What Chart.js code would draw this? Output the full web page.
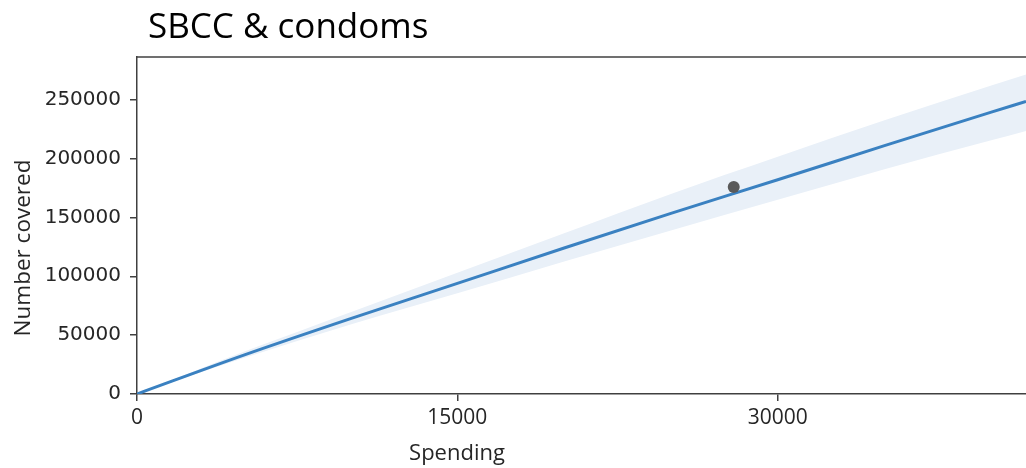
<!DOCTYPE html>
<html>
<head>
<meta charset="utf-8">
<script src="https://cdn.jsdelivr.net/npm/chart.js@4"></script>
<style>
  html, body { margin: 0; padding: 0; background: #fff; overflow: hidden; width: 1026px; height: 468px; }
  canvas { display: block; }
</style>
</head>
<body>
<canvas id="chart" width="1032" height="468"></canvas>
<script>
// dados
const spending = [0, 5000, 10000, 15000, 20000, 25000, 30000, 35000, 40000, 41625];
const covered = [0, 33000, 64000, 94000, 124000, 153500, 182000, 211000, 239500, 248500];
const upper = [0, 35800, 69500, 103000, 136500, 170000, 201500, 232500, 262000, 271500];
const lower = [0, 30500, 59000, 85500, 112500, 139000, 165000, 191000, 215500, 223500];
const observedX = [27940];
const observedY = [175800];
const xTicks = [0, 15000, 30000];
const yTicks = [0, 50000, 100000, 150000, 200000, 250000];

const title = "SBCC & condoms";
const xTitle = "Spending";
const yTitle = "Number covered";

const axisColor = "#404040";
const textColor = "#262626";

function pts(xs, ys) {
  return xs.map((x, i) => ({ x: x, y: ys[i] }));
}

// título, rótulos e moldura
const decor = {
  id: "decor",
  afterDraw(chart) {
    const ctx = chart.ctx;
    const a = chart.chartArea;
    ctx.save();
    ctx.strokeStyle = axisColor;
    ctx.lineWidth = 1.5;
    ctx.beginPath();
    ctx.moveTo(a.left, a.top);
    ctx.lineTo(a.right, a.top);
    ctx.stroke();

    ctx.fillStyle = "#000";
    ctx.font = "35px 'Open Sans'";
    ctx.textBaseline = "alphabetic";
    ctx.textAlign = "left";
    ctx.fillText(title, 148, 38);

    ctx.fillStyle = textColor;
    ctx.font = "22px 'Open Sans'";
    ctx.textAlign = "center";
    ctx.fillText(xTitle, 457, 460);

    ctx.translate(30, 248);
    ctx.rotate(-Math.PI / 2);
    ctx.font = "22.5px 'Open Sans'";
    ctx.fillText(yTitle, 0, 0);
    ctx.restore();
  }
};

new Chart(document.getElementById("chart"), {
  type: "line",
  data: {
    datasets: [
      {
        data: pts(observedX, observedY),
        showLine: false,
        pointRadius: 6,
        pointBackgroundColor: "#5a5a5a",
        pointBorderWidth: 0,
        order: 0
      },
      {
        data: pts(spending, covered),
        borderColor: "#3a81c1",
        borderWidth: 3,
        pointRadius: 0,
        cubicInterpolationMode: "monotone",
        fill: false,
        order: 1
      },
      {
        data: pts(spending, upper),
        borderWidth: 0,
        pointRadius: 0,
        cubicInterpolationMode: "monotone",
        backgroundColor: "#e9f0f8",
        fill: "+1",
        order: 2
      },
      {
        data: pts(spending, lower),
        borderWidth: 0,
        pointRadius: 0,
        cubicInterpolationMode: "monotone",
        fill: false,
        order: 3
      }
    ]
  },
  options: {
    responsive: false,
    animation: false,
    layout: { padding: { top: 57, left: 0, right: 0, bottom: 0 } },
    plugins: {
      legend: { display: false },
      tooltip: { enabled: false }
    },
    scales: {
      x: {
        type: "linear",
        min: 0,
        max: 41625,
        afterBuildTicks: s => { s.ticks = xTicks.map(v => ({ value: v })); },
        afterFit: s => { s.height = 74; },
        ticks: {
          color: textColor,
          font: { family: "'Open Sans'", size: 21 },
          padding: 4,
          maxRotation: 0,
          callback: v => String(v)
        },
        grid: { drawOnChartArea: false, tickLength: 7, color: axisColor, lineWidth: 1.5 },
        border: { color: axisColor, width: 1.5 }
      },
      y: {
        min: 0,
        max: 286300,
        afterBuildTicks: s => { s.ticks = yTicks.map(v => ({ value: v })); },
        afterFit: s => { s.width = 137; },
        ticks: {
          color: textColor,
          font: { family: "'DejaVu Sans'", size: 20 },
          padding: 9,
          callback: v => String(v)
        },
        grid: { drawOnChartArea: false, tickLength: 7, color: axisColor, lineWidth: 1.5 },
        border: { color: axisColor, width: 1.5 }
      }
    }
  },
  plugins: [decor]
});
</script>
</body>
</html>
